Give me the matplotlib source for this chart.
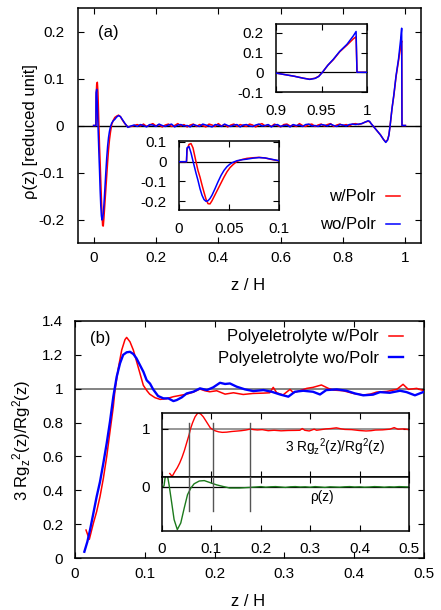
import numpy as np
import matplotlib
matplotlib.use("Agg")
import matplotlib.pyplot as plt
from matplotlib.ticker import FuncFormatter, FixedLocator

plt.rcParams['font.family'] = ['Liberation Sans', 'DejaVu Sans']
plt.rcParams['mathtext.fontset'] = 'custom'
plt.rcParams['mathtext.rm'] = 'Liberation Sans'
plt.rcParams['mathtext.it'] = 'Liberation Sans'
plt.rcParams['axes.unicode_minus'] = False

# ---------------- data: panel (a) rho(z) ----------------
z_near = [0, 0.0075, 0.008, 0.010, 0.012, 0.014, 0.017, 0.019, 0.021, 0.023, 0.025,
          0.027, 0.029, 0.031, 0.033, 0.036, 0.039, 0.042, 0.045, 0.048, 0.051,
          0.054, 0.058, 0.063, 0.068, 0.074, 0.080, 0.086, 0.092, 0.100]
rho_w_near = [0, 0, 0.06, 0.088, 0.092, 0.07, 0.0, -0.045, -0.078, -0.118, -0.155,
              -0.190, -0.213, -0.214, -0.198, -0.168, -0.138, -0.108, -0.078, -0.051, -0.030,
              -0.015, 0.002, 0.011, 0.017, 0.020, 0.022, 0.019, 0.012, 0.004]
rho_wo_near = [0, 0, 0.07, 0.077, 0.045, 0.003, -0.058, -0.095, -0.137, -0.170, -0.192,
               -0.201, -0.198, -0.187, -0.170, -0.137, -0.102, -0.070, -0.044, -0.025, -0.012,
               -0.003, 0.005, 0.010, 0.013, 0.018, 0.021, 0.019, 0.013, 0.005]

z_mid = np.round(np.arange(0.11, 0.8501, 0.01), 2)
rho_w_mid = [-0.003, -0.002, 0.000, 0.002, -0.001, 0.003, -0.002, 0.001, 0.004, -0.001,
             0.002, -0.003, 0.001, 0.003, -0.002, 0.000, 0.004, -0.001, 0.002, -0.003,
             0.001, 0.003, -0.002, 0.002, 0.000, -0.003, 0.003, 0.001, -0.002, 0.004,
             -0.001, 0.002, -0.003, 0.001, 0.003, -0.002, 0.002, 0.000, -0.002, 0.003,
             0.001, -0.003, 0.002, 0.004, -0.001, 0.001, -0.002, 0.003, 0.000, -0.003,
             0.002, 0.003, -0.001, 0.001, -0.002, 0.004, 0.000, -0.002, 0.002, 0.003,
             -0.002, 0.001, 0.003, -0.001, 0.002, 0.004, -0.002, 0.001, 0.003, 0.000,
             0.002, -0.001, 0.003, 0.004, 0.002]
rho_wo_mid = [-0.004, -0.001, 0.001, -0.002, 0.002, 0.000, -0.003, 0.002, 0.001, -0.002,
              0.003, 0.000, -0.002, 0.001, 0.003, -0.003, 0.001, 0.002, -0.001, 0.000,
              -0.003, 0.002, 0.000, -0.002, 0.003, 0.001, -0.001, -0.003, 0.002, 0.001,
              -0.002, 0.003, 0.000, -0.002, 0.001, 0.002, -0.003, 0.001, 0.002, -0.001,
              -0.002, 0.001, 0.003, -0.001, 0.000, 0.002, -0.003, 0.001, 0.002, -0.002,
              0.000, 0.001, -0.003, 0.002, 0.000, 0.001, -0.002, 0.002, 0.003, -0.001,
              0.000, -0.002, 0.002, 0.001, -0.001, 0.003, 0.000, -0.002, 0.002, 0.001,
              -0.001, 0.002, 0.003, 0.002, 0.003]

z_far = [0.86, 0.87, 0.88, 0.885, 0.89, 0.90, 0.91, 0.92, 0.93, 0.937, 0.943, 0.947,
         0.951, 0.957, 0.963, 0.970, 0.978, 0.985, 0.988, 0.989, 0.995, 1.0]
rho_w_far = [0.004, 0.007, 0.009, 0.008, 0.004, -0.004, -0.012, -0.020, -0.030, -0.035,
             -0.030, -0.020, 0.000, 0.036, 0.064, 0.104, 0.138, 0.170, 0.180, 0.0, 0.0, 0.0]
rho_wo_far = [0.004, 0.007, 0.010, 0.009, 0.004, -0.004, -0.012, -0.020, -0.030, -0.036,
              -0.031, -0.021, 0.000, 0.036, 0.066, 0.106, 0.142, 0.185, 0.207, 0.0, 0.0, 0.0]

# ---------------- data: panel (b) 3Rgz^2/Rg^2 ----------------
z_rg_w = [0.0158, 0.0205, 0.0263, 0.031, 0.0358, 0.0406, 0.0454, 0.0501, 0.0549, 0.0573,
          0.062, 0.0669, 0.0716, 0.074, 0.0788, 0.0836, 0.0883, 0.0931, 0.0979, 0.1027,
          0.107, 0.1146, 0.122, 0.131, 0.141, 0.150, 0.160, 0.1695, 0.179, 0.186,
          0.193, 0.203, 0.215, 0.227, 0.241, 0.255, 0.270, 0.279, 0.284, 0.289,
          0.298, 0.308, 0.313, 0.322, 0.332, 0.341, 0.353, 0.363, 0.370, 0.384,
          0.399, 0.413, 0.423, 0.432, 0.4465, 0.461, 0.470, 0.4776, 0.4895, 0.5]
rg_w = [0.165, 0.11, 0.205, 0.274, 0.362, 0.47, 0.598, 0.746, 0.894, 0.992,
        1.12, 1.228, 1.29, 1.303, 1.277, 1.228, 1.16, 1.09, 1.02, 0.99,
        0.968, 0.947, 0.937, 0.941, 0.953, 0.96, 0.968, 0.98, 0.998, 0.988,
        0.982, 0.988, 0.968, 0.976, 0.966, 0.972, 0.974, 0.976, 1.008, 0.976,
        0.963, 0.996, 0.976, 0.988, 1.002, 1.008, 1.022, 1.002, 0.992, 0.988,
        0.972, 0.963, 0.968, 0.98, 0.984, 0.996, 1.026, 0.996, 1.002, 0.988]
z_rg_wo = [0.0134, 0.0177, 0.0215, 0.0263, 0.031, 0.0358, 0.0406, 0.0454, 0.0501, 0.0549,
           0.0597, 0.0645, 0.069, 0.074, 0.0788, 0.0836, 0.088, 0.093, 0.098, 0.1027,
           0.1075, 0.112, 0.119, 0.1266, 0.1337, 0.141, 0.1457, 0.153, 0.160, 0.1695,
           0.179, 0.189, 0.198, 0.2077, 0.215, 0.222, 0.2316, 0.2436, 0.2555, 0.270,
           0.2818, 0.2937, 0.3056, 0.315, 0.327, 0.341, 0.351, 0.360, 0.375, 0.389,
           0.401, 0.413, 0.427, 0.437, 0.451, 0.4656, 0.475, 0.487, 0.5]
rg_wo = [0.037, 0.096, 0.165, 0.264, 0.362, 0.45, 0.56, 0.677, 0.805, 0.953,
         1.07, 1.15, 1.2, 1.215, 1.218, 1.205, 1.18, 1.14, 1.10, 1.05,
         1.03, 0.996, 0.957, 0.943, 0.943, 0.927, 0.933, 0.949, 0.972, 0.982,
         1.002, 0.992, 1.008, 1.035, 1.028, 1.031, 1.012, 0.996, 0.986, 0.992,
         0.982, 0.966, 0.953, 0.982, 0.988, 0.982, 0.966, 0.992, 0.996, 0.988,
         0.972, 0.961, 0.965, 0.98, 0.976, 0.988, 0.98, 0.961, 0.982]

# inset (b): density profile (green)
z_green = [0.0, 0.004, 0.0088, 0.0143, 0.0197, 0.0245, 0.031, 0.038, 0.045, 0.0517,
           0.0585, 0.065, 0.0755, 0.0857, 0.096, 0.110, 0.123, 0.137, 0.157, 0.178,
           0.19, 0.20, 0.21, 0.22, 0.23, 0.24, 0.25, 0.26, 0.27, 0.28, 0.29, 0.30,
           0.31, 0.32, 0.33, 0.34, 0.35, 0.36, 0.37, 0.38, 0.39, 0.40, 0.41, 0.42,
           0.43, 0.44, 0.45, 0.46, 0.47, 0.48, 0.49, 0.50]
rho_green = [0.0, 0.005, 0.09, 0.011, -0.08, -0.163, -0.213, -0.18, -0.105, -0.038,
             -0.005, 0.016, 0.030, 0.032, 0.023, 0.011, 0.003, -0.005, -0.005, -0.002,
             0.000, 0.002, -0.001, 0.001, 0.002, 0.000, -0.002, 0.001, 0.002, 0.000,
             0.001, -0.001, 0.002, 0.000, -0.002, 0.001, 0.000, -0.001, 0.001, 0.002,
             0.000, 0.001, -0.001, 0.000, 0.002, 0.001, -0.001, 0.001, 0.000, 0.002,
             0.001, 0.000]
z_marks = [0.0537, 0.1027, 0.179]

# ---------------- helpers ----------------
W, H = 441, 610
fig = plt.figure(figsize=(W / 100, H / 100), dpi=100)

def rect(l, t, r, b):
    return [l / W, 1 - b / H, (r - l) / W, (b - t) / H]

fmt = FuncFormatter(lambda v, p: ('%g' % round(v, 6)))
FS = 11.0      # tick labels
FT = 12.0      # labels / legends

def style(ax, xpad=5.0, ypad=8.0, lw=1.1):
    ax.tick_params(direction='in', top=True, right=True, length=4, width=0.8,
                   labelsize=FS, color='black')
    ax.tick_params(axis='x', pad=xpad)
    ax.tick_params(axis='y', pad=ypad)
    for s in ax.spines.values():
        s.set_linewidth(lw)
    ax.xaxis.set_major_formatter(fmt)
    ax.yaxis.set_major_formatter(fmt)

RED = '#ff0000'
BLUE = '#0000ff'
GREEN = '#1c7a1c'
GRAY = '#7a7a7a'

z_all = np.concatenate([z_near, z_mid, z_far])
rho_w = np.concatenate([rho_w_near, rho_w_mid, rho_w_far])
rho_wo = np.concatenate([rho_wo_near, rho_wo_mid, rho_wo_far])

# ---------------- panel (a) ----------------
ax1 = fig.add_axes(rect(78, 8, 421, 243))
ax1.axhline(0, color='black', lw=1.0, zorder=1)
l1, = ax1.plot(z_all, rho_w, color=RED, lw=1.1, zorder=2)
l2, = ax1.plot(z_all, rho_wo, color=BLUE, lw=1.1, zorder=3)
ax1.set_xlim(-0.05, 1.05)
ax1.set_ylim(-0.25, 0.25)
ax1.xaxis.set_major_locator(FixedLocator([0, 0.2, 0.4, 0.6, 0.8, 1.0]))
ax1.yaxis.set_major_locator(FixedLocator([-0.2, -0.1, 0, 0.1, 0.2]))
style(ax1, xpad=5.5, ypad=10)
ax1.legend([l1, l2], ['w/Polr', 'wo/Polr'], loc='center right',
           bbox_to_anchor=(400 / W, 1 - 211 / H), bbox_transform=fig.transFigure,
           frameon=False, markerfirst=False, handlelength=0.85, handletextpad=0.6,
           labelspacing=0.78, borderpad=0, borderaxespad=0, fontsize=FT)
fig.text(108 / W, 1 - 33 / H, '(a)', ha='center', va='center', fontsize=FT)
fig.text(248 / W, 1 - 285 / H, 'z / H', ha='center', va='center', fontsize=FT)
fig.text(30 / W, 1 - 132 / H, 'ρ(z) [reduced unit]', ha='center', va='center',
         rotation=90, fontsize=FT)

# inset near z=1
in1 = fig.add_axes(rect(276, 24, 367, 92))
in1.axhline(0, color='black', lw=0.9, zorder=1)
in1.plot(z_all, rho_w, color=RED, lw=1.1, zorder=2)
in1.plot(z_all, rho_wo, color=BLUE, lw=1.1, zorder=3)
in1.set_xlim(0.9, 1.0)
in1.set_ylim(-0.1, 0.245)
in1.xaxis.set_major_locator(FixedLocator([0.9, 0.95, 1.0]))
in1.yaxis.set_major_locator(FixedLocator([-0.1, 0, 0.1, 0.2]))
style(in1, xpad=8.5, ypad=9)

# inset near z=0
in2 = fig.add_axes(rect(179, 141, 279, 210))
in2.axhline(0, color='black', lw=0.9, zorder=1)
in2.plot(z_all, rho_w, color=RED, lw=1.1, zorder=2)
in2.plot(z_all, rho_wo, color=BLUE, lw=1.1, zorder=3)
in2.set_xlim(0, 0.1)
in2.set_ylim(-0.245, 0.105)
in2.xaxis.set_major_locator(FixedLocator([0, 0.05, 0.1]))
in2.yaxis.set_major_locator(FixedLocator([-0.2, -0.1, 0, 0.1]))
style(in2, xpad=8.5, ypad=9)

# ---------------- panel (b) ----------------
ax2 = fig.add_axes(rect(75, 321, 424, 558))
ax2.axhline(1, color=GRAY, lw=1.3, zorder=1)
m1, = ax2.plot(z_rg_w, rg_w, color=RED, lw=1.1, zorder=2)
m2, = ax2.plot(z_rg_wo, rg_wo, color=BLUE, lw=1.7, zorder=3)
ax2.set_xlim(0, 0.5)
ax2.set_ylim(0, 1.4)
ax2.xaxis.set_major_locator(FixedLocator([0, 0.1, 0.2, 0.3, 0.4, 0.5]))
ax2.yaxis.set_major_locator(FixedLocator([0, 0.2, 0.4, 0.6, 0.8, 1.0, 1.2, 1.4]))
style(ax2, xpad=6.5, ypad=8.5)
ax2.legend([m1, m2], ['Polyeletrolyte w/Polr', 'Polyeletrolyte wo/Polr'],
           loc='center right', bbox_to_anchor=(403 / W, 1 - 347.5 / H),
           bbox_transform=fig.transFigure, frameon=False, markerfirst=False,
           handlelength=0.85, handletextpad=0.6, labelspacing=0.36, borderpad=0,
           borderaxespad=0, fontsize=FT)
fig.text(100 / W, 1 - 339 / H, '(b)', ha='center', va='center', fontsize=FT)
fig.text(248 / W, 1 - 602 / H, 'z / H', ha='center', va='center', fontsize=FT)
fig.text(22 / W, 1 - 440 / H, r'3 Rg${}_{\mathrm{z}}{}^{\mathrm{2}}$(z)/Rg${}^{\mathrm{2}}$(z)',
         ha='center', va='center', rotation=90, fontsize=FT)

# inset (b) upper: Rg ratio
in3a = fig.add_axes(rect(162, 413, 409, 477))
in3a.axhline(1, color=GRAY, lw=1.1, zorder=1)
in3a.plot(z_rg_w, rg_w, color=RED, lw=1.0, zorder=2)
for zm in z_marks:
    in3a.axvline(zm, ymin=0, ymax=0.84, color='#555555', lw=1.0, zorder=3)
in3a.set_xlim(0, 0.5)
in3a.set_ylim(0.1, 1.3)
in3a.xaxis.set_major_locator(FixedLocator([0, 0.1, 0.2, 0.3, 0.4, 0.5]))
in3a.yaxis.set_major_locator(FixedLocator([1]))
style(in3a, xpad=8, ypad=8.5)
in3a.tick_params(labelbottom=False)
fig.text(335 / W, 1 - 447 / H, r'3 Rg${}_{\mathrm{z}}{}^{\mathrm{2}}$(z)/Rg${}^{\mathrm{2}}$(z)',
         ha='center', va='center', fontsize=9.8)

# inset (b) lower: density
in3b = fig.add_axes(rect(162, 477, 409, 531))
in3b.axhline(0, color='black', lw=0.9, zorder=1)
in3b.plot(z_green, rho_green, color=GREEN, lw=1.0, zorder=2)
for zm in z_marks:
    in3b.axvline(zm, ymin=0.376, ymax=1.0, color='#555555', lw=1.0, zorder=3)
in3b.set_xlim(0, 0.5)
in3b.set_ylim(-0.22, 0.05)
in3b.xaxis.set_major_locator(FixedLocator([0, 0.1, 0.2, 0.3, 0.4, 0.5]))
in3b.yaxis.set_major_locator(FixedLocator([0]))
style(in3b, xpad=8, ypad=8.5)
fig.text(322 / W, 1 - 497 / H, 'ρ(z)', ha='center', va='center', fontsize=9.8)

fig.savefig('out.png', dpi=100)
